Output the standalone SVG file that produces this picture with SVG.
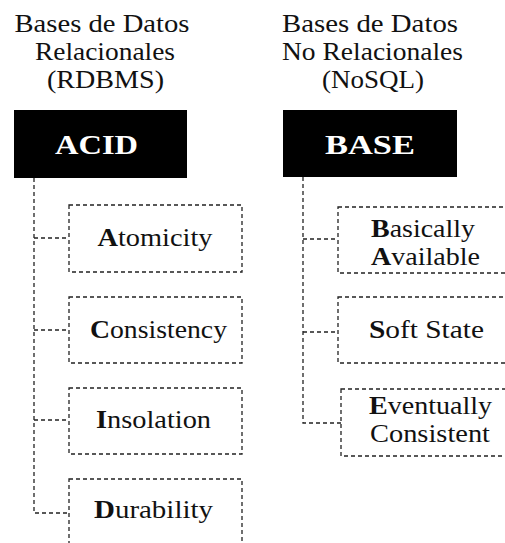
<svg xmlns="http://www.w3.org/2000/svg" width="505" height="543" viewBox="0 0 505 543">
  <style>
    .t { font-size: 25px; fill: #111; text-anchor: middle; }
    .h { font-size: 27px; font-weight: bold; fill: #fff; text-anchor: middle; }
    .b { font-weight: bold; }
    .head { fill: #000; }
    .item { fill: #fff; stroke: #222; stroke-width: 1.3; stroke-dasharray: 4 3; }
    .link { fill: none; stroke: #222; stroke-width: 1.3; stroke-dasharray: 4 3; }
  </style>
  <rect width="505" height="543" fill="#fff"/>

  <g font-family="Liberation Serif, serif">
  <!-- column titles -->
  <g id="title-rdbms">
    <text class="t" x="102" y="32" textLength="175" lengthAdjust="spacingAndGlyphs">Bases de Datos</text>
    <text class="t" x="105" y="60" textLength="140" lengthAdjust="spacingAndGlyphs">Relacionales</text>
    <text class="t" x="105.5" y="88" textLength="117" lengthAdjust="spacingAndGlyphs">(RDBMS)</text>
  </g>
  <g id="title-nosql">
    <text class="t" x="370" y="32" textLength="176" lengthAdjust="spacingAndGlyphs">Bases de Datos</text>
    <text class="t" x="372.5" y="60" textLength="181" lengthAdjust="spacingAndGlyphs">No Relacionales</text>
    <text class="t" x="373" y="88" textLength="102" lengthAdjust="spacingAndGlyphs">(NoSQL)</text>
  </g>

  <!-- connectors -->
  <g id="connectors">
    <path class="link" d="M34 178 V513 H69 M34 238 H69 M34 330 H69 M34 420 H69"/>
    <path class="link" d="M303 177 V423 H341 M303 239 H338 M303 332 H338"/>
  </g>

  <!-- ACID column -->
  <g id="acid">
    <rect class="head" x="14" y="110" width="173" height="68"/>
    <text class="h" x="96.5" y="154" textLength="83" lengthAdjust="spacingAndGlyphs">ACID</text>
  </g>
  <g id="atomicity">
    <rect class="item" x="69" y="205" width="173" height="67"/>
    <text class="t" x="155" y="246" textLength="115" lengthAdjust="spacingAndGlyphs"><tspan class="b">A</tspan>tomicity</text>
  </g>
  <g id="consistency">
    <rect class="item" x="69" y="297" width="173" height="66"/>
    <text class="t" x="158.5" y="338" textLength="137" lengthAdjust="spacingAndGlyphs"><tspan class="b">C</tspan>onsistency</text>
  </g>
  <g id="insolation">
    <rect class="item" x="69" y="388" width="173" height="66"/>
    <text class="t" x="153.5" y="428" textLength="115" lengthAdjust="spacingAndGlyphs"><tspan class="b">I</tspan>nsolation</text>
  </g>
  <g id="durability">
    <rect class="item" x="69" y="479" width="173" height="70"/>
    <text class="t" x="153.5" y="518" textLength="119" lengthAdjust="spacingAndGlyphs"><tspan class="b">D</tspan>urability</text>
  </g>

  <!-- BASE column -->
  <g id="base">
    <rect class="head" x="283" y="110" width="174" height="67"/>
    <text class="h" x="370" y="154" textLength="90" lengthAdjust="spacingAndGlyphs">BASE</text>
  </g>
  <g id="basically-available">
    <rect class="item" x="338" y="207" width="173" height="66"/>
    <text class="t" x="423" y="237" textLength="104" lengthAdjust="spacingAndGlyphs"><tspan class="b">B</tspan>asically</text>
    <text class="t" x="425.5" y="265" textLength="109" lengthAdjust="spacingAndGlyphs"><tspan class="b">A</tspan>vailable</text>
  </g>
  <g id="soft-state">
    <rect class="item" x="338" y="297" width="173" height="66"/>
    <text class="t" x="426.5" y="338" textLength="115" lengthAdjust="spacingAndGlyphs"><tspan class="b">S</tspan>oft State</text>
  </g>
  <g id="eventually-consistent">
    <rect class="item" x="341" y="389" width="173" height="67"/>
    <text class="t" x="430.5" y="414" textLength="123" lengthAdjust="spacingAndGlyphs"><tspan class="b">E</tspan>ventually</text>
    <text class="t" x="430" y="442" textLength="120" lengthAdjust="spacingAndGlyphs">Consistent</text>
  </g>
  </g>
</svg>
